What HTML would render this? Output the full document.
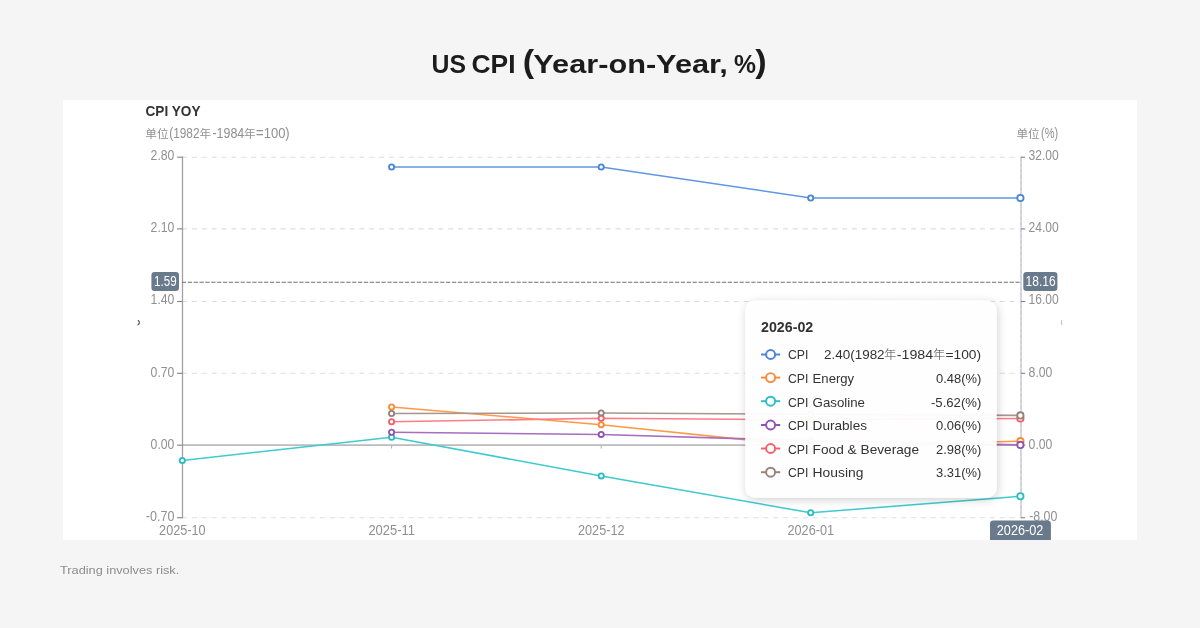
<!DOCTYPE html>
<html lang="en">
<head>
<meta charset="utf-8">
<title>US CPI (Year-on-Year, %)</title>
<style>
  html, body { margin: 0; padding: 0; background: #f5f5f5; }
  body { width: 1200px; height: 628px; overflow: hidden; position: relative; }
  svg { position: absolute; left: 0; top: 0; display: block; will-change: transform; }
  text { font-family: "Liberation Sans", "Noto Sans CJK SC", sans-serif; }
  .ax { font-size: 14.2px; fill: #919191; }
  .tt { font-size: 13.5px; fill: #333333; }
  .pl { font-size: 14.2px; fill: #ffffff; }
</style>
</head>
<body>
<svg width="1200" height="628" viewBox="0 0 1200 628">
  <defs>
    <filter id="sh" x="-20%" y="-20%" width="140%" height="140%">
      <feGaussianBlur in="SourceAlpha" stdDeviation="5"/>
      <feOffset dx="1" dy="2"/>
      <feComponentTransfer><feFuncA type="linear" slope="0.2"/></feComponentTransfer>
      <feMerge><feMergeNode/><feMergeNode in="SourceGraphic"/></feMerge>
    </filter>
    <clipPath id="panel"><rect x="63" y="100" width="1074" height="440"/></clipPath>
  </defs>

  <!-- page background -->
  <rect x="0" y="0" width="1200" height="628" fill="#f5f5f5"/>

  <!-- title -->
  <text y="73.2" font-size="25.5" font-weight="700" fill="#1c1c1c"><tspan x="431.5" textLength="34.5" lengthAdjust="spacingAndGlyphs">US</tspan> <tspan x="471.5" textLength="44" lengthAdjust="spacingAndGlyphs">CPI</tspan> <tspan x="522.8" y="72.4" font-size="32" textLength="11.4" lengthAdjust="spacingAndGlyphs">(</tspan><tspan x="533.3" y="73.2" textLength="194.5" lengthAdjust="spacingAndGlyphs">Year-on-Year,</tspan> <tspan x="734" y="73.2" textLength="22" lengthAdjust="spacingAndGlyphs">%</tspan><tspan x="755.2" y="72.4" font-size="32" textLength="11.4" lengthAdjust="spacingAndGlyphs">)</tspan></text>

  <!-- white chart panel -->
  <rect x="63" y="100" width="1074" height="440" fill="#ffffff"/>

  <g clip-path="url(#panel)">
    <!-- chart heading -->
    <text x="145.5" y="116" font-size="14" font-weight="700" fill="#333333" textLength="55" lengthAdjust="spacingAndGlyphs">CPI YOY</text>
    <text class="ax" y="137.8"><tspan x="145.3" font-size="11.6">单位</tspan><tspan x="169.2" textLength="30.4" lengthAdjust="spacingAndGlyphs">(1982</tspan><tspan x="199.6" font-size="11.6">年</tspan><tspan x="212.4" textLength="31.9" lengthAdjust="spacingAndGlyphs">-1984</tspan><tspan x="243.9" font-size="11.6">年</tspan><tspan x="256.1" textLength="33.6" lengthAdjust="spacingAndGlyphs">=100)</tspan></text>
    <text class="ax" y="137.8"><tspan x="1016.5" font-size="11.6">单位</tspan><tspan x="1041.0" textLength="17.1" lengthAdjust="spacingAndGlyphs">(%)</tspan></text>

    <!-- horizontal dashed grid lines -->
    <g stroke="#dedede" stroke-width="1.1" stroke-dasharray="5.1 4.75" fill="none">
      <line x1="182.1" y1="157.2" x2="1021.0" y2="157.2"/>
      <line x1="182.1" y1="228.9" x2="1021.0" y2="228.9"/>
      <line x1="182.1" y1="301.5" x2="1021.0" y2="301.5"/>
      <line x1="182.1" y1="373.3" x2="1021.0" y2="373.3"/>
      <line x1="182.1" y1="517.7" x2="1021.0" y2="517.7"/>
    </g>
    <!-- zero line (x axis) with ticks -->
    <line x1="182.5" y1="445.2" x2="1021.0" y2="445.2" stroke="#bbbbbb" stroke-width="1.7"/>
    <g stroke="#b3b3b3" stroke-width="1.1">
      <line x1="391.6" y1="445.2" x2="391.6" y2="448.5"/>
      <line x1="601.2" y1="445.2" x2="601.2" y2="448.5"/>
      <line x1="810.7" y1="445.2" x2="810.7" y2="448.5"/>
    </g>
    <!-- left axis -->
    <line x1="182.5" y1="156.6" x2="182.5" y2="518.3" stroke="#a2a2a2" stroke-width="1.3"/>
    <g stroke="#828282" stroke-width="1.1">
      <line x1="177.1" y1="157.2" x2="182.5" y2="157.2"/>
      <line x1="177.1" y1="228.9" x2="182.5" y2="228.9"/>
      <line x1="177.1" y1="301.5" x2="182.5" y2="301.5"/>
      <line x1="177.1" y1="373.3" x2="182.5" y2="373.3"/>
      <line x1="177.1" y1="445.2" x2="182.5" y2="445.2"/>
      <line x1="177.1" y1="517.7" x2="182.5" y2="517.7"/>
    </g>
    <g class="ax">
      <text x="150.6" y="160.0" textLength="23.8" lengthAdjust="spacingAndGlyphs">2.80</text>
      <text x="150.6" y="232.0" textLength="23.8" lengthAdjust="spacingAndGlyphs">2.10</text>
      <text x="150.6" y="304.1" textLength="23.8" lengthAdjust="spacingAndGlyphs">1.40</text>
      <text x="150.6" y="377.0" textLength="23.8" lengthAdjust="spacingAndGlyphs">0.70</text>
      <text x="150.6" y="449.0" textLength="23.8" lengthAdjust="spacingAndGlyphs">0.00</text>
      <text x="145.8" y="520.8" textLength="28.6" lengthAdjust="spacingAndGlyphs">-0.70</text>
    </g>
    <!-- right axis -->
    <line x1="1021.0" y1="156.6" x2="1021.0" y2="518.3" stroke="#d8d9e0" stroke-width="1.8"/>
    <line x1="1021.0" y1="157.2" x2="1021.0" y2="517.7" stroke="#c8c8cf" stroke-width="1" stroke-dasharray="4.2 1.7"/>
    <g stroke="#828282" stroke-width="1.1">
      <line x1="1021.0" y1="157.2" x2="1025.2" y2="157.2"/>
      <line x1="1021.0" y1="228.9" x2="1025.2" y2="228.9"/>
      <line x1="1021.0" y1="301.5" x2="1025.2" y2="301.5"/>
      <line x1="1021.0" y1="373.3" x2="1025.2" y2="373.3"/>
      <line x1="1021.0" y1="445.2" x2="1025.2" y2="445.2"/>
      <line x1="1021.0" y1="517.7" x2="1025.2" y2="517.7"/>
    </g>
    <g class="ax">
      <text x="1028.6" y="160.0" textLength="30.2" lengthAdjust="spacingAndGlyphs">32.00</text>
      <text x="1028.6" y="232.0" textLength="30.2" lengthAdjust="spacingAndGlyphs">24.00</text>
      <text x="1028.6" y="304.1" textLength="30.2" lengthAdjust="spacingAndGlyphs">16.00</text>
      <text x="1028.6" y="377.0" textLength="23.8" lengthAdjust="spacingAndGlyphs">8.00</text>
      <text x="1028.6" y="449.0" textLength="23.8" lengthAdjust="spacingAndGlyphs">0.00</text>
      <text x="1029.2" y="520.8" textLength="28.2" lengthAdjust="spacingAndGlyphs">-8.00</text>
    </g>
    <!-- x axis labels -->
    <g class="ax">
      <text x="159.1" y="534.8" textLength="46.5" lengthAdjust="spacingAndGlyphs">2025-10</text>
      <text x="368.4" y="534.8" textLength="46.5" lengthAdjust="spacingAndGlyphs">2025-11</text>
      <text x="578.0" y="534.8" textLength="46.5" lengthAdjust="spacingAndGlyphs">2025-12</text>
      <text x="787.5" y="534.8" textLength="46.5" lengthAdjust="spacingAndGlyphs">2026-01</text>
    </g>
    <!-- crosshair -->
    <line x1="181.9" y1="282.3" x2="1021.0" y2="282.3" stroke="#6f6f6f" stroke-width="1.1" stroke-dasharray="4.25 1.62"/>
    <!-- series -->
    <polyline fill="none" stroke="#6097e2" stroke-width="1.55" stroke-linejoin="round" points="391.6,167.0 601.2,167.0 810.7,198.0 1020.4,198.0"/>
    <g fill="#ffffff" stroke="#4a86d6" stroke-width="1.85">
      <circle cx="391.6" cy="167.0" r="2.6"/>
      <circle cx="601.2" cy="167.0" r="2.6"/>
      <circle cx="810.7" cy="198.0" r="2.6"/>
      <circle cx="1020.4" cy="198.0" r="3.15"/>
    </g>
    <polyline fill="none" stroke="#fd9a48" stroke-width="1.55" stroke-linejoin="round" points="391.6,407.0 601.2,424.7 810.7,446.5 1020.4,441.1"/>
    <g fill="#ffffff" stroke="#fb8b33" stroke-width="1.85">
      <circle cx="391.6" cy="407.0" r="2.6"/>
      <circle cx="601.2" cy="424.7" r="2.6"/>
      <circle cx="810.7" cy="446.5" r="2.6"/>
      <circle cx="1020.4" cy="441.1" r="3.15"/>
    </g>
    <polyline fill="none" stroke="#3fcace" stroke-width="1.55" stroke-linejoin="round" points="182.3,460.4 391.6,437.3 601.2,475.9 810.7,512.8 1020.4,496.3"/>
    <g fill="#ffffff" stroke="#2bbcc1" stroke-width="1.85">
      <circle cx="182.3" cy="460.4" r="2.6"/>
      <circle cx="391.6" cy="437.3" r="2.6"/>
      <circle cx="601.2" cy="475.9" r="2.6"/>
      <circle cx="810.7" cy="512.8" r="2.6"/>
      <circle cx="1020.4" cy="496.3" r="3.15"/>
    </g>
    <polyline fill="none" stroke="#a66dc1" stroke-width="1.55" stroke-linejoin="round" points="391.6,432.2 601.2,434.4 810.7,440.8 1020.4,444.9"/>
    <g fill="#ffffff" stroke="#9152b0" stroke-width="1.85">
      <circle cx="391.6" cy="432.2" r="2.6"/>
      <circle cx="601.2" cy="434.4" r="2.6"/>
      <circle cx="810.7" cy="440.8" r="2.6"/>
      <circle cx="1020.4" cy="444.9" r="3.15"/>
    </g>
    <polyline fill="none" stroke="#ff7c85" stroke-width="1.55" stroke-linejoin="round" points="391.6,421.8 601.2,418.3 810.7,419.8 1020.4,418.5"/>
    <g fill="#ffffff" stroke="#f0606a" stroke-width="1.85">
      <circle cx="391.6" cy="421.8" r="2.6"/>
      <circle cx="601.2" cy="418.3" r="2.6"/>
      <circle cx="810.7" cy="419.8" r="2.6"/>
      <circle cx="1020.4" cy="418.5" r="3.15"/>
    </g>
    <polyline fill="none" stroke="#a7958f" stroke-width="1.55" stroke-linejoin="round" points="391.6,413.5 601.2,412.9 810.7,414.2 1020.4,415.4"/>
    <g fill="#ffffff" stroke="#978079" stroke-width="1.85">
      <circle cx="391.6" cy="413.5" r="2.6"/>
      <circle cx="601.2" cy="412.9" r="2.6"/>
      <circle cx="810.7" cy="414.2" r="2.6"/>
      <circle cx="1020.4" cy="415.4" r="3.15"/>
    </g>

    <!-- axis pointer labels -->
    <rect x="151.4" y="272" width="27.6" height="19" rx="3.2" fill="#687a8c"/>
    <text class="pl" x="154" y="285.7" textLength="22.6" lengthAdjust="spacingAndGlyphs">1.59</text>
    <rect x="1023.3" y="272" width="34.1" height="19" rx="3.2" fill="#687a8c"/>
    <text class="pl" x="1025.6" y="285.7" textLength="30" lengthAdjust="spacingAndGlyphs">18.16</text>
    <rect x="990" y="520.5" width="60.9" height="24" rx="3.4" fill="#687a8c"/>
    <text class="pl" x="996.8" y="534.8" textLength="46.6" lengthAdjust="spacingAndGlyphs">2026-02</text>

    <!-- stray clipped marks at the chart edges -->
    <text x="137.6" y="323.9" font-size="6.1" fill="#3c3c3c" stroke="#3c3c3c" stroke-width="0.25" textLength="2.7" lengthAdjust="spacingAndGlyphs">)</text>
    <text x="1060.6" y="324.2" font-size="5" fill="#858585" textLength="2" lengthAdjust="spacingAndGlyphs">(</text>

    <!-- tooltip -->
    <rect x="745.2" y="300.4" width="251.5" height="197.3" rx="10" fill="#ffffff" fill-opacity="0.95" filter="url(#sh)"/>
    <text x="761" y="332" font-size="14" font-weight="700" fill="#333333" textLength="52.3" lengthAdjust="spacingAndGlyphs">2026-02</text>

    <g fill="#ffffff" stroke-width="1.95">
      <g stroke="#4c84d8"><line x1="761" y1="354.5" x2="780.2" y2="354.5"/><circle cx="770.6" cy="354.5" r="4.5"/></g>
      <g stroke="#fb8b3a"><line x1="761" y1="377.6" x2="780.2" y2="377.6"/><circle cx="770.6" cy="377.6" r="4.5"/></g>
      <g stroke="#2dbdc2"><line x1="761" y1="401.2" x2="780.2" y2="401.2"/><circle cx="770.6" cy="401.2" r="4.5"/></g>
      <g stroke="#9053b3"><line x1="761" y1="425.0" x2="780.2" y2="425.0"/><circle cx="770.6" cy="425.0" r="4.5"/></g>
      <g stroke="#f2626a"><line x1="761" y1="448.5" x2="780.2" y2="448.5"/><circle cx="770.6" cy="448.5" r="4.5"/></g>
      <g stroke="#98827c"><line x1="761" y1="472.2" x2="780.2" y2="472.2"/><circle cx="770.6" cy="472.2" r="4.5"/></g>
    </g>
    <g class="tt">
      <text y="359.3"><tspan x="788.0" textLength="20.4" lengthAdjust="spacingAndGlyphs">CPI</tspan></text>
      <text y="383.1"><tspan x="788.0" textLength="20.4" lengthAdjust="spacingAndGlyphs">CPI</tspan> <tspan x="812.6" textLength="41.6" lengthAdjust="spacingAndGlyphs">Energy</tspan></text>
      <text y="406.5"><tspan x="788.0" textLength="20.4" lengthAdjust="spacingAndGlyphs">CPI</tspan> <tspan x="812.6" textLength="52.4" lengthAdjust="spacingAndGlyphs">Gasoline</tspan></text>
      <text y="430.1"><tspan x="788.0" textLength="20.4" lengthAdjust="spacingAndGlyphs">CPI</tspan> <tspan x="812.6" textLength="54.4" lengthAdjust="spacingAndGlyphs">Durables</tspan></text>
      <text y="453.8"><tspan x="788.0" textLength="20.4" lengthAdjust="spacingAndGlyphs">CPI</tspan> <tspan x="812.6" textLength="106.5" lengthAdjust="spacingAndGlyphs">Food &amp; Beverage</tspan></text>
      <text y="477.4"><tspan x="788.0" textLength="20.4" lengthAdjust="spacingAndGlyphs">CPI</tspan> <tspan x="812.6" textLength="50.8" lengthAdjust="spacingAndGlyphs">Housing</tspan></text>
    </g>
    <g class="tt">
      <text y="359.3"><tspan x="824.0" textLength="60.6" lengthAdjust="spacingAndGlyphs">2.40(1982</tspan><tspan x="884.2" font-size="12.2" font-weight="300" fill="#444444">年</tspan><tspan x="896.8" textLength="36.4" lengthAdjust="spacingAndGlyphs">-1984</tspan><tspan x="933.1" font-size="12.2" font-weight="300" fill="#444444">年</tspan><tspan x="945.5" textLength="35.6" lengthAdjust="spacingAndGlyphs">=100)</tspan></text>
      <text x="936.0" y="383.1" textLength="45.3" lengthAdjust="spacingAndGlyphs">0.48(%)</text>
      <text x="931.0" y="406.5" textLength="50.3" lengthAdjust="spacingAndGlyphs">-5.62(%)</text>
      <text x="936.0" y="430.1" textLength="45.3" lengthAdjust="spacingAndGlyphs">0.06(%)</text>
      <text x="936.0" y="453.8" textLength="45.3" lengthAdjust="spacingAndGlyphs">2.98(%)</text>
      <text x="936.0" y="477.4" textLength="45.3" lengthAdjust="spacingAndGlyphs">3.31(%)</text>
    </g>
  </g>

  <!-- footer -->
  <text x="60" y="574" font-size="11.5" fill="#8c8c8c" textLength="119.3" lengthAdjust="spacingAndGlyphs">Trading involves risk.</text>
</svg>
</body>
</html>
